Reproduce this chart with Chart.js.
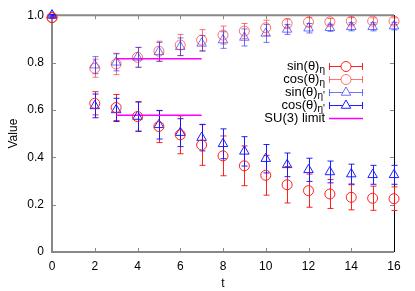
<!DOCTYPE html>
<html>
<head>
<meta charset="utf-8">
<script src="https://cdn.jsdelivr.net/npm/chart.js@4.4.0/dist/chart.umd.min.js"></script>
<style>
  html, body { margin: 0; padding: 0; background: #fff; }
  #wrap { width: 415px; height: 291px; position: relative; }
</style>
</head>
<body>
<div id="wrap"><canvas id="mixChart"></canvas></div>
<script>
// time slices
const tValues = [0, 2, 3, 4, 5, 6, 7, 8, 9, 10, 11, 12, 13, 14, 15, 16];

// eta, lower branch
const sinEta    = [0.99, 0.628, 0.610, 0.572, 0.530, 0.495, 0.452, 0.406, 0.364, 0.324, 0.284, 0.259, 0.245, 0.231, 0.227, 0.225];
const sinEtaErr = [0.003, 0.049, 0.055, 0.062, 0.068, 0.080, 0.086, 0.084, 0.084, 0.084, 0.077, 0.070, 0.061, 0.053, 0.051, 0.050];
// eta, upper branch
const cosEta    = [0.99, 0.776, 0.794, 0.822, 0.848, 0.874, 0.895, 0.916, 0.933, 0.947, 0.965, 0.971, 0.972, 0.975, 0.975, 0.975];
const cosEtaErr = [0.003, 0.038, 0.045, 0.042, 0.042, 0.045, 0.044, 0.038, 0.032, 0.032, 0.019, 0.020, 0.014, 0.015, 0.014, 0.014];
// eta', upper branch
const sinEtaP    = [1.0, 0.789, 0.801, 0.822, 0.845, 0.867, 0.881, 0.895, 0.906, 0.923, 0.940, 0.945, 0.947, 0.951, 0.951, 0.954];
const sinEtaPErr = [0.003, 0.036, 0.036, 0.042, 0.040, 0.037, 0.033, 0.035, 0.036, 0.038, 0.021, 0.020, 0.015, 0.017, 0.017, 0.016];
// eta', lower branch
const cosEtaP    = [1.0, 0.617, 0.600, 0.572, 0.537, 0.504, 0.483, 0.457, 0.425, 0.394, 0.368, 0.347, 0.338, 0.329, 0.326, 0.326];
const cosEtaPErr = [0.003, 0.050, 0.049, 0.062, 0.060, 0.059, 0.056, 0.063, 0.062, 0.060, 0.050, 0.049, 0.046, 0.042, 0.040, 0.040];

// SU(3) limit segments
const su3T     = [3, 7];
const su3Upper = [0.816, 0.816];
const su3Lower = [0.578, 0.578];

// axis ticks
const xTicks = [0, 2, 4, 6, 8, 10, 12, 14, 16];
const yTicks = [0, 0.2, 0.4, 0.6, 0.8, 1];

// legend text
const legendNames = ['sin(θ)', 'cos(θ)', 'sin(θ)', 'cos(θ)', 'SU(3) limit'];
const legendSubs  = ['η', 'η', "η'", "η'", ''];

const FONT = '"Liberation Sans", Arial, sans-serif';
const RED   = 'rgba(255, 20, 20, 0.95)';
const RED2  = 'rgba(255, 40, 40, 0.65)';
const BLUE  = 'rgba(20, 20, 255, 0.95)';
const BLUE2 = 'rgba(40, 40, 255, 0.65)';
const MAGENTA = '#ff00ff';
const NONE = 'rgba(0,0,0,0)';

function pts(ys) {
    return tValues.map((t, i) => ({ x: t, y: ys[i] }));
}

function markerSet(label, ys, errs, color, style) {
    return {
        label: label,
        data: pts(ys),
        errs: errs,
        borderColor: color,
        backgroundColor: NONE,
        pointBackgroundColor: NONE,
        pointBorderColor: color,
        pointStyle: style,
        pointRadius: style === 'triangle' ? 5.5 : 5,
        pointBorderWidth: 1,
        showLine: false,
        clip: false
    };
}

// Frame and inward tick marks (gnuplot style)
const framePlugin = {
    id: 'frame',
    beforeDatasetsDraw(chart) {
        const { ctx, chartArea: a, scales } = chart;
        ctx.save();
        ctx.strokeStyle = '#888';
        ctx.lineWidth = 1;
        xTicks.forEach(v => {
            const px = Math.round(scales.x.getPixelForValue(v)) + 0.5;
            ctx.beginPath();
            ctx.moveTo(px, a.bottom); ctx.lineTo(px, a.bottom - 4);
            ctx.moveTo(px, a.top); ctx.lineTo(px, a.top + 4);
            ctx.stroke();
        });
        yTicks.forEach(v => {
            const py = Math.round(scales.y.getPixelForValue(v)) + 0.5;
            ctx.beginPath();
            ctx.moveTo(a.left, py); ctx.lineTo(a.left + 4, py);
            ctx.moveTo(a.right, py); ctx.lineTo(a.right - 4, py);
            ctx.stroke();
        });
        // gray border left/bottom/top
        ctx.lineWidth = 2;
        ctx.beginPath();
        ctx.moveTo(a.right, a.top);
        ctx.lineTo(a.left, a.top);
        ctx.lineTo(a.left, a.bottom);
        ctx.lineTo(a.right, a.bottom);
        ctx.stroke();
        // black right border
        ctx.strokeStyle = '#000';
        ctx.lineWidth = 1;
        ctx.beginPath();
        ctx.moveTo(Math.round(a.right) + 0.5, a.top);
        ctx.lineTo(Math.round(a.right) + 0.5, a.bottom);
        ctx.stroke();

        // error bars
        chart.data.datasets.forEach(ds => {
            if (!ds.errs) return;
            ctx.strokeStyle = ds.borderColor;
            ctx.lineWidth = 1;
            ds.data.forEach((p, i) => {
                const px = Math.round(scales.x.getPixelForValue(p.x)) + 0.5;
                const y1 = scales.y.getPixelForValue(p.y + ds.errs[i]);
                const y2 = scales.y.getPixelForValue(p.y - ds.errs[i]);
                ctx.beginPath();
                ctx.moveTo(px, y1); ctx.lineTo(px, y2);
                ctx.moveTo(px - 3, y1); ctx.lineTo(px + 3, y1);
                ctx.moveTo(px - 3, y2); ctx.lineTo(px + 3, y2);
                ctx.stroke();
            });
        });
        ctx.restore();
    }
};

// Legend with subscripts
const legendPlugin = {
    id: 'subLegend',
    afterDraw(chart) {
        const ctx = chart.ctx;
        const sets = chart.data.datasets;
        const textRight = 325, lineL = 329, lineR = 363, mid = 346;
        ctx.save();
        legendNames.forEach((name, i) => {
            const y = 66 + i * 13;
            const ds = sets[i];
            ctx.font = '13px ' + FONT;
            const w1 = ctx.measureText(name).width;
            ctx.font = '10px ' + FONT;
            const w2 = legendSubs[i] ? ctx.measureText(legendSubs[i]).width : 0;
            const x0 = textRight - w1 - w2;
            ctx.fillStyle = '#000';
            ctx.textBaseline = 'middle';
            ctx.textAlign = 'left';
            ctx.font = '13px ' + FONT;
            ctx.fillText(name, x0, y);
            if (legendSubs[i]) {
                ctx.font = '10px ' + FONT;
                ctx.fillText(legendSubs[i], x0 + w1, y + 4);
            }
            ctx.strokeStyle = ds.borderColor;
            ctx.lineWidth = ds.errs ? 1 : 1.5;
            ctx.beginPath();
            ctx.moveTo(lineL, y + 0.5); ctx.lineTo(lineR, y + 0.5);
            if (ds.errs) {
                ctx.moveTo(lineL + 0.5, y - 3); ctx.lineTo(lineL + 0.5, y + 4);
                ctx.moveTo(lineR - 0.5, y - 3); ctx.lineTo(lineR - 0.5, y + 4);
            }
            ctx.stroke();
            if (ds.errs) {
                ctx.fillStyle = '#fff';
                ctx.strokeStyle = ds.borderColor;
                Chart.helpers.drawPoint(ctx, {
                    pointStyle: ds.pointStyle,
                    radius: ds.pointRadius,
                    borderWidth: 1,
                    rotation: 0
                }, mid, y + 0.5);
            }
        });
        ctx.restore();
    }
};

const datasets = [
    markerSet('sin(θ)η', sinEta, sinEtaErr, RED, 'circle'),
    markerSet('cos(θ)η', cosEta, cosEtaErr, RED2, 'circle'),
    markerSet("sin(θ)η'", sinEtaP, sinEtaPErr, BLUE2, 'triangle'),
    markerSet("cos(θ)η'", cosEtaP, cosEtaPErr, BLUE, 'triangle'),
    {
        label: 'SU(3) limit',
        data: su3T.map((t, i) => ({ x: t, y: su3Upper[i] })),
        borderColor: MAGENTA,
        borderWidth: 1.5,
        pointRadius: 0,
        showLine: true,
        fill: false
    },
    {
        label: 'SU(3) limit lower',
        data: su3T.map((t, i) => ({ x: t, y: su3Lower[i] })),
        borderColor: MAGENTA,
        borderWidth: 1.5,
        pointRadius: 0,
        showLine: true,
        fill: false
    }
];

Chart.defaults.font.family = FONT;
Chart.defaults.font.size = 12;
Chart.defaults.color = '#000';

new Chart(document.getElementById('mixChart'), {
    type: 'scatter',
    data: { datasets: datasets },
    options: {
        responsive: true,
        maintainAspectRatio: false,
        animation: false,
        layout: { padding: { left: 0, top: 15, right: 21, bottom: 0 } },
        plugins: { legend: { display: false }, tooltip: { enabled: false } },
        scales: {
            x: {
                type: 'linear',
                min: 0, max: 16,
                afterBuildTicks: s => { s.ticks = xTicks.map(v => ({ value: v })); },
                afterFit: s => { s.height = 39; },
                grid: { display: false, drawTicks: false },
                border: { display: false },
                ticks: { padding: 7, color: '#000', font: { size: 12 } },
                title: { display: true, text: 't', color: '#000', font: { size: 12 }, padding: { top: 0, bottom: 0 } }
            },
            y: {
                type: 'linear',
                min: 0, max: 1,
                afterBuildTicks: s => { s.ticks = yTicks.map(v => ({ value: v })); },
                afterFit: s => { s.width = 52; },
                grid: { display: false, drawTicks: false },
                border: { display: false },
                ticks: { padding: 8, color: '#000', font: { size: 12 } },
                title: { display: true, text: 'Value', color: '#000', font: { size: 12 }, padding: { top: 6, bottom: 0 } }
            }
        }
    },
    plugins: [framePlugin, legendPlugin]
});
</script>
</body>
</html>
